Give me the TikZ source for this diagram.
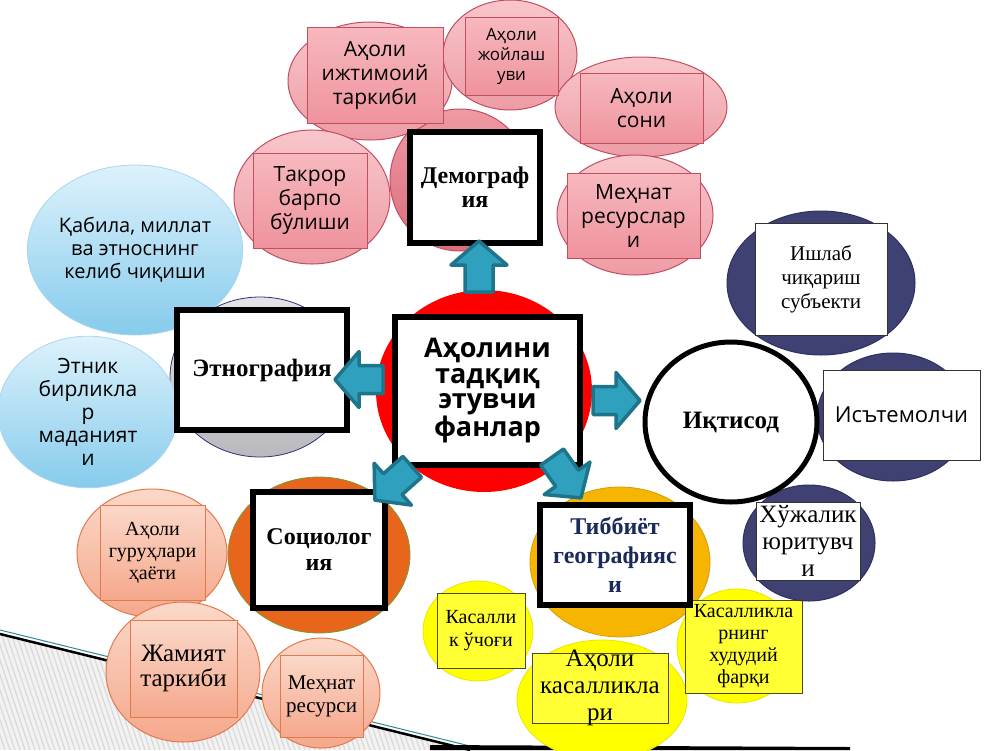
\documentclass[tikz,border=0pt]{standalone}
\usepackage{fontspec}
\setmainfont{Liberation Serif}
\newfontfamily\osans{Open Sans}
\usetikzlibrary{shapes.geometric}
\definecolor{pinkline}{HTML}{C24E61}
\definecolor{pinktop}{HTML}{F8C6CB}
\definecolor{pinkbot}{HTML}{EE9CA5}
\definecolor{pboxtop}{HTML}{F7B8BE}
\definecolor{pboxbot}{HTML}{EF939D}
\definecolor{demtop}{HTML}{EE9AA4}
\definecolor{dembot}{HTML}{DB6C7B}
\definecolor{bluetop}{HTML}{DDF2FC}
\definecolor{bluebot}{HTML}{86CBEC}
\definecolor{blueline}{HTML}{A9D6EE}
\definecolor{greytop}{HTML}{E4E4E6}
\definecolor{greybot}{HTML}{B9B9BD}
\definecolor{greyline}{HTML}{2B3578}
\definecolor{navyfill}{HTML}{3E4172}
\definecolor{navyline}{HTML}{2D3060}
\definecolor{goldfill}{HTML}{F6B500}
\definecolor{goldline}{HTML}{D89E00}
\definecolor{yellowfill}{HTML}{FFFF00}
\definecolor{yellowline}{HTML}{E6E600}
\definecolor{yboxfill}{HTML}{FFFF33}
\definecolor{yboxline}{HTML}{4A4A20}
\definecolor{orangefill}{HTML}{E8661C}
\definecolor{orangeline}{HTML}{7A9A3A}
\definecolor{peachtop}{HTML}{FBD8C9}
\definecolor{peachbot}{HTML}{F5A88C}
\definecolor{peachline}{HTML}{E07A4E}
\definecolor{arrowfill}{HTML}{2FA0BE}
\definecolor{arrowline}{HTML}{1E7489}
\definecolor{navytext}{HTML}{1C2A5A}
\definecolor{stripebg}{HTML}{F2F2F2}
\definecolor{stripefg}{HTML}{D9D9D9}
\definecolor{tealline}{HTML}{2E8C96}
\newcommand\fsz[2]{\fontsize{#1}{#2}\selectfont}
% block arrow: x, y (centre), angle, length
\newcommand\blockarr[4]{%
  \begin{scope}[shift={(#1,#2)}, rotate=#3]
    \draw[blockarrow] ({-#4/2},-14) -- ({#4/2-24},-14) -- ({#4/2-24},-28) --
      ({#4/2},0) -- ({#4/2-24},28) -- ({#4/2-24},14) -- ({-#4/2},14) -- cycle;
  \end{scope}}
\begin{document}
\begin{tikzpicture}[x=1pt,y=-1pt,
  sz/.style 2 args={minimum width=#1, minimum height=#2},
  ell/.style={ellipse, inner sep=0pt, align=center},
  box/.style={rectangle, inner sep=0pt, align=center},
  pinkell/.style={ell, draw=pinkline, line width=1, top color=pinktop, bottom color=pinkbot},
  pinkbox/.style={box, draw=pinkline, line width=1, top color=pboxtop, bottom color=pboxbot, font=\osans\fsz{21}{24}},
  mainbox/.style={box, draw=black, line width=6, fill=white, font=\bfseries\fsz{24}{24}},
  blueell/.style={ell, draw=blueline, line width=0.8, top color=bluetop, bottom color=bluebot, font=\osans\fsz{20}{23}},
  navyell/.style={ell, draw=navyline, line width=1, fill=navyfill},
  wbox/.style={box, draw=black!80, line width=1, fill=white},
  yell/.style={ell, draw=yellowline, line width=0.8, fill=yellowfill},
  ybox/.style={box, draw=yboxline, line width=1, fill=yboxfill},
  peachell/.style={ell, draw=peachline, line width=1, top color=peachtop, bottom color=peachbot},
  peachbox/.style={box, draw=peachline, line width=1, top color=peachtop, bottom color=peachbot},
  txt/.style={inner sep=0pt, align=center},
  blockarrow/.style={draw=arrowline, fill=arrowfill, line width=3.5, line join=round}
]
\useasboundingbox (0,0) rectangle (1000,750);
\fill[white] (0,0) rectangle (1000,750);

% background stripes bottom-left
\begin{scope}
  \clip (0,634) -- (470,750) -- (0,750) -- cycle;
  \fill[stripebg] (0,600) rectangle (480,750);
  \foreach \i in {-60,-55,...,480} \draw[stripefg, line width=1.2] (\i,600) -- (\i+50,750);
\end{scope}
\draw[tealline, line width=1] (0,630) -- (470,746);
\draw[black, line width=2.5] (0,634) -- (470,750);
\fill[black] (430,745) -- (850,747) -- (850,750) -- (430,750) -- cycle;

% ===== Demography group =====
\node[ell, sz={140}{142}, draw=pinkline, line width=1, top color=demtop, bottom color=dembot] (demc) at (460,180) {};
\node[pinkell, sz={164}{118}] (ijte) at (370,81) {};
\node[pinkell, sz={134}{110}] (joye) at (510,55) {};
\node[pinkell, sz={172}{100}] (sone) at (641,107) {};
\node[pinkell, sz={156}{120}] (mehe) at (635,215) {};
\node[pinkell, sz={156}{134}] (take) at (312,197) {};
\node[pinkbox, sz={136}{96}] (ijtb) at (375,75) {Аҳоли\\ижтимоий\\таркиби};
\node[pinkbox, sz={93}{78}, font=\osans\fsz{17}{20}] (joyb) at (511.5,56) {Аҳоли\\жойлаш\\уви};
\node[pinkbox, sz={123}{70}] (sonb) at (641.5,108) {Аҳоли\\сони};
\node[pinkbox, sz={133}{85}] (mehb) at (633.5,215.5) {Меҳнат\\ресурслар\\и};
\node[pinkbox, sz={114}{95}] (takb) at (310,200.5) {Такрор\\барпо\\бўлиши};
\node[mainbox, sz={130}{111}] (dem) at (475,187.5) {Демограф\\ия};

% ===== Ethnography group =====
\node[ell, sz={180}{160}, draw=greyline, line width=0.8, top color=greytop, bottom color=greybot] (etnc) at (260,377) {};
\node[blueell, sz={196}{170}] (qab) at (135,250) {Қабила, миллат\\ва этноснинг\\келиб чиқиши};
\node[blueell, sz={180}{150}, font=\osans\fsz{21}{23}] (etk) at (88,412) {Этник\\бирликла\\р\\маданият\\и};
\node[mainbox, sz={170}{120}, font=\bfseries\fsz{25}{25}] (etn) at (262,370) {Этнография};

% ===== Centre =====
\node[ell, sz={216}{202}, fill=red] (redc) at (484,391) {};
\node[box, draw=black, line width=6, fill=white, sz={185}{148}, font=\osans\bfseries\fsz{27}{25.5}] (ctr) at (487.5,391) {Аҳолини\\тадқиқ\\этувчи\\фанлар};

% ===== Medical geography group =====
\node[ell, sz={180}{150}, draw=goldline, line width=0.8, fill=goldfill] (medc) at (620,562) {};
\node[yell, sz={110}{100}] (kase) at (478,631) {};
\node[yell, sz={170}{120}] (ahoe) at (602,700) {};
\node[yell, sz={120}{114}] (fare) at (737,646) {};
\node[ybox, sz={88}{75}] (kasb) at (481,630.5) {};
\node[txt, font=\fsz{20}{23}] (kast) at (kasb) {Касалли\\к ўчоғи};
\node[ybox, sz={136}{70}] (ahob) at (600,688) {};
\node[txt, font=\fsz{25}{27}] (ahot) at (600,688) {Аҳоли\\касалликла\\ри};
\node[ybox, sz={117}{93}] (farb) at (743.5,646.5) {};
\node[txt, font=\fsz{20}{22}] (fart) at (farb) {Касалликла\\рнинг\\худудий\\фарқи};
\node[mainbox, sz={150}{100}, text=navytext, font=\bfseries\fsz{24}{29}] (med) at (615,555) {Тиббиёт\\географияс\\и};

% ===== Economy group =====
\node[navyell, sz={188}{144}] (ishe) at (821,283) {};
\node[navyell, sz={152}{128}] (iste) at (893,417) {};
\node[navyell, sz={132}{116}] (xoje) at (809,543) {};
\node[ell, sz={172}{160}, draw=black, line width=5, fill=white, font=\bfseries\fsz{25}{26}] (iqt) at (731,422) {Иқтисод};
\node[wbox, sz={132}{112}, font=\fsz{21}{24}] (ishb) at (821,279) {Ишлаб\\чиқариш\\субъекти};
\node[wbox, sz={157}{90}, font=\osans\fsz{22}{24}] (istb) at (901.5,415) {Исътемолчи};
\node[wbox, sz={104}{78}] (xojb) at (808,541) {};
\node[txt, font=\fsz{25}{27}] (xojt) at (xojb) {Хўжалик\\юритувч\\и};

% ===== Sociology group =====
\node[ell, sz={182}{156}, draw=orangeline, line width=0.8, fill=orangefill] (socc) at (319,555) {};
\node[peachell, sz={150}{128}] (gure) at (152,553) {};
\node[peachell, sz={154}{140}] (jame) at (183,672) {};
\node[peachell, sz={118}{110}] (mhe) at (321,693) {};
\node[peachbox, sz={105}{95}, font=\fsz{20}{22}] (gurb) at (152.5,552.5) {Аҳоли\\гуруҳлари\\ҳаёти};
\node[peachbox, sz={107}{97}, font=\fsz{25}{25}] (jamb) at (183.5,668.5) {Жамият\\таркиби};
\node[peachbox, sz={83}{82}, font=\fsz{21}{23}] (mhb) at (321.5,696) {Меҳнат\\ресурси};
\node[mainbox, sz={132}{116}, font=\bfseries\fsz{24}{26}] (soc) at (319,550) {Социолог\\ия};

% ===== Block arrows =====
\blockarr{479}{266.5}{90}{51}
\blockarr{359}{379.5}{180}{48}
\blockarr{616.5}{400.5}{0}{47}
\blockarr{393.5}{483.5}{221.7}{50}
\blockarr{566.5}{477.5}{-54.7}{50}
\end{tikzpicture}
\end{document}
